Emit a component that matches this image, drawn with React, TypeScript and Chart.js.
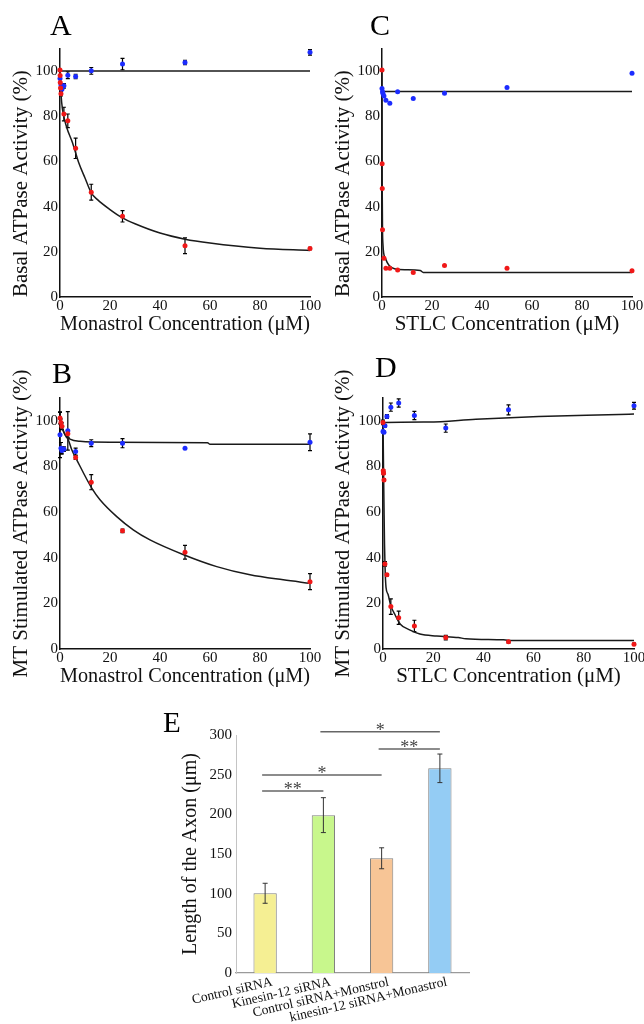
import React, { useEffect, useRef } from 'react';
import { Chart, registerables } from 'chart.js';

Chart.register(...registerables);

const SERIF = "'Liberation Serif', 'Times New Roman', Times, serif";
Chart.defaults.font.family = SERIF;
Chart.defaults.color = '#000';

// ---------- shared tick labels ----------
const CONC_TICKS = [0, 20, 40, 60, 80, 100];
const ACTIVITY_TICKS = [0, 20, 40, 60, 80, 100];
const AXON_TICKS = [0, 50, 100, 150, 200, 250, 300];

// ---------- Panel A : Monastrol, basal ----------
const A_RED_X = [0, 0.05, 0.1, 0.2, 0.39, 1.56, 3.125, 6.25, 12.5, 25, 50, 100];
const A_RED_Y = [100.5, 98, 95, 92.5, 90, 81, 78, 65.8, 46.4, 35.7, 22.7, 21.5];
const A_RED_ERR = [0, 0, 0, 0, 1, 3, 3, 4.5, 3.5, 2.5, 3.5, 0.5];
const A_BLUE_X = [0, 0.39, 0.78, 1.56, 3.125, 6.25, 12.5, 25, 50, 100];
const A_BLUE_Y = [96.7, 93.8, 92, 93.5, 98.2, 97.6, 100.1, 103.1, 103.8, 108.3];
const A_BLUE_ERR = [0, 0, 0, 1, 1.5, 1, 1.5, 2.5, 1, 1.2];
const A_RED_FIT_X = [0, 0.4, 1, 2.7, 5, 7.5, 10, 12.5, 15, 20, 25, 30, 40, 50, 60, 80, 100];
const A_RED_FIT_Y = [100.5, 90, 83, 75, 68.3, 59.4, 52.7, 46.1, 43.1, 38.7, 35, 32.4, 28.3, 25.6, 23.9, 21.6, 20.6];
const A_BLUE_FIT_X = [0, 100];
const A_BLUE_FIT_Y = [100, 100];

// ---------- Panel B : Monastrol, MT stimulated ----------
const B_RED_X = [0, 0.39, 0.78, 3.125, 6.25, 12.5, 25, 50, 100];
const B_RED_Y = [101.2, 99.3, 97.6, 94.3, 83.9, 73.1, 51.8, 42.4, 29.5];
const B_RED_ERR = [2.5, 1.5, 1.5, 1.5, 0.8, 3.3, 0.8, 3, 3.5];
const B_BLUE_X = [0, 0.39, 0.78, 1.56, 3.125, 6.25, 12.5, 25, 50, 100];
const B_BLUE_Y = [93.9, 88, 87, 87.6, 95.6, 86.5, 90.2, 90.2, 88, 90.6];
const B_BLUE_ERR = [10, 2.5, 1.5, 1, 8.4, 1.5, 1.5, 2, 0, 3.7];
const B_RED_FIT_X = [0, 2, 3.3, 4.7, 6.7, 12.7, 16, 22.7, 29.3, 36, 49.7, 62.7, 76, 89.3, 100];
const B_RED_FIT_Y = [100.4, 93.9, 91.7, 87.3, 82.9, 70.5, 65.4, 58, 52.2, 47.8, 41.2, 36.1, 32.5, 30.3, 28.8];
const B_BLUE_FIT_X = [0, 2, 4, 8, 20, 59, 60, 100];
const B_BLUE_FIT_Y = [99, 94, 92, 91, 90.6, 90.4, 89.7, 89.7];

// ---------- Panel C : STLC, basal ----------
const C_RED_X = [0, 0.05, 0.1, 0.2, 0.78, 1.56, 3.125, 6.25, 12.5, 25, 50, 100];
const C_RED_Y = [100.5, 59, 48, 29.8, 17.2, 12.7, 12.7, 12, 10.8, 13.9, 12.7, 11.6];
const C_BLUE_X = [0, 0.2, 0.39, 0.78, 1.56, 3.125, 6.25, 12.5, 25, 50, 100];
const C_BLUE_Y = [92.3, 90.8, 90.1, 89, 87.1, 85.8, 90.8, 87.9, 90.2, 92.7, 99];
const C_RED_FIT_X = [0, 0.05, 0.1, 0.2, 0.4, 0.67, 1.3, 2.7, 6, 15.3, 16.5, 100];
const C_RED_FIT_Y = [100, 60, 45, 30, 23, 19.4, 17.2, 14.2, 12.3, 11.7, 10.9, 10.9];
const C_BLUE_FIT_X = [0, 100];
const C_BLUE_FIT_Y = [91, 91];

// ---------- Panel D : STLC, MT stimulated ----------
const D_RED_X = [0, 0.1, 0.2, 0.39, 0.78, 1.56, 3.125, 6.25, 12.5, 25, 50, 100];
const D_RED_Y = [99.3, 78.1, 77, 74.1, 37.3, 32.5, 18.6, 13.7, 10.1, 5, 3.2, 2.1];
const D_RED_ERR = [1, 0.5, 0.5, 0.5, 1, 0.5, 3.4, 2.9, 2.5, 1, 0.5, 0.5];
const D_BLUE_X = [0, 0.39, 0.78, 1.56, 3.125, 6.25, 12.5, 25, 50, 100];
const D_BLUE_Y = [95.3, 95, 97.8, 101.9, 106, 107.8, 102.3, 96.8, 104.8, 106.6];
const D_BLUE_ERR = [0.5, 0.5, 0.5, 0.8, 1.8, 1.8, 1.8, 1.8, 2.2, 1.5];
const D_RED_FIT_X = [0, 0.2, 0.4, 0.6, 0.8, 1.2, 2, 3.1, 4.8, 6.8, 10.8, 14.7, 21.4, 30, 33, 48, 52, 100];
const D_RED_FIT_Y = [100, 80, 62, 46, 36.5, 27, 24, 19, 15, 11, 8.3, 6.6, 5.7, 5, 4.5, 4, 3.7, 3.7];
const D_BLUE_FIT_X = [0, 1, 18, 37, 62, 94, 100];
const D_BLUE_FIT_Y = [98.2, 99.3, 99.5, 100.7, 101.9, 102.8, 103];

// ---------- Panel E : axon length ----------
const E_CATEGORIES = ['Control siRNA', 'Kinesin-12 siRNA', 'Control siRNA+Monstrol', 'kinesin-12 siRNA+Monastrol'];
const E_VALUES = [100.5, 199, 144.6, 258];
const E_ERRORS = [12.6, 22, 13.2, 18];
const E_SIG_FROM = [0, 0, 2, 1];
const E_SIG_TO = [1, 2, 3, 3];
const E_SIG_Y = [229.4, 249.6, 282.4, 304.2];
const E_SIG_LABEL = ['**', '*', '**', '*'];

// ---------- styles / layout ----------
const RED = '#f01818';
const BLUE = '#1c2cff';
const E_COLORS = ['#f5ef93', '#c8f78c', '#f7c596', '#94ccf4'];

type Box = { left: number; top: number; width: number; height: number; plotLeft: number; plotRight: number; plotTop: number; plotBottom: number };
const LAYOUT: Record<string, Box> = {
  A: { left: 0, top: 0, width: 322, height: 343, plotLeft: 60, plotRight: 310, plotTop: 48.5, plotBottom: 297 },
  C: { left: 322, top: 0, width: 322, height: 343, plotLeft: 60, plotRight: 310, plotTop: 48.5, plotBottom: 297 },
  B: { left: 0, top: 350, width: 322, height: 345, plotLeft: 60, plotRight: 310, plotTop: 48, plotBottom: 299 },
  D: { left: 322, top: 350, width: 322, height: 345, plotLeft: 61, plotRight: 312, plotTop: 48, plotBottom: 299 },
  E: { left: 150, top: 700, width: 340, height: 324, plotLeft: 86, plotRight: 319, plotTop: 35, plotBottom: 273 },
};

const zip = (xs: number[], ys: number[]) => xs.map((x, i) => ({ x, y: ys[i] }));

const errorBarPlugin = {
  id: 'errBars',
  draw(chart: any, onTop: boolean, opts: any) {
    if (!!opts.onTop !== onTop) return;
    const ctx = chart.ctx;
    const ys = chart.scales.y;
    ctx.save();
    ctx.strokeStyle = opts.color || '#000';
    ctx.lineWidth = opts.width || 1.2;
    const cap = opts.cap || 2;
    chart.data.datasets.forEach((ds: any, di: number) => {
      if (!ds.errors) return;
      const meta = chart.getDatasetMeta(di);
      meta.data.forEach((el: any, i: number) => {
        const e = ds.errors[i];
        if (!e) return;
        const raw = ds.data[i];
        const v = typeof raw === 'number' ? raw : raw.y;
        const x = el.x;
        const y1 = ys.getPixelForValue(v + e);
        const y2 = ys.getPixelForValue(v - e);
        ctx.beginPath();
        ctx.moveTo(x, y1);
        ctx.lineTo(x, y2);
        ctx.moveTo(x - cap, y1);
        ctx.lineTo(x + cap, y1);
        ctx.moveTo(x - cap, y2);
        ctx.lineTo(x + cap, y2);
        ctx.stroke();
      });
    });
    ctx.restore();
  },
  beforeDatasetsDraw(chart: any, _a: any, opts: any) {
    errorBarPlugin.draw(chart, false, opts);
  },
  afterDatasetsDraw(chart: any, _a: any, opts: any) {
    errorBarPlugin.draw(chart, true, opts);
  },
};

const sigPlugin = {
  id: 'sigBrackets',
  afterDraw(chart: any) {
    const ctx = chart.ctx;
    const meta = chart.getDatasetMeta(0);
    const ys = chart.scales.y;
    ctx.save();
    ctx.strokeStyle = '#666';
    ctx.lineWidth = 1.5;
    ctx.fillStyle = '#444';
    ctx.font = `18px ${SERIF}`;
    ctx.textAlign = 'center';
    ctx.textBaseline = 'alphabetic';
    E_SIG_FROM.forEach((f, k) => {
      const x1 = meta.data[f].x - 3;
      const x2 = meta.data[E_SIG_TO[k]].x;
      const y = ys.getPixelForValue(E_SIG_Y[k]);
      ctx.beginPath();
      ctx.moveTo(x1, y);
      ctx.lineTo(x2, y);
      ctx.stroke();
      ctx.fillText(E_SIG_LABEL[k], (x1 + x2) / 2, y + 4);
    });
    ctx.restore();
  },
};

type Series = { x: number[]; y: number[]; err?: number[] };
type PanelData = { xTitle: string; yTitle: string; yAlign: 'start' | 'center'; red: Series; blue: Series; redFit: Series; blueFit: Series };

const PANELS: Record<string, PanelData> = {
  A: {
    xTitle: 'Monastrol Concentration (μM)', yTitle: 'Basal ATPase Activity (%)', yAlign: 'start',
    red: { x: A_RED_X, y: A_RED_Y, err: A_RED_ERR }, blue: { x: A_BLUE_X, y: A_BLUE_Y, err: A_BLUE_ERR },
    redFit: { x: A_RED_FIT_X, y: A_RED_FIT_Y }, blueFit: { x: A_BLUE_FIT_X, y: A_BLUE_FIT_Y },
  },
  B: {
    xTitle: 'Monastrol Concentration (μM)', yTitle: 'MT Stimulated ATPase Activity (%)', yAlign: 'center',
    red: { x: B_RED_X, y: B_RED_Y, err: B_RED_ERR }, blue: { x: B_BLUE_X, y: B_BLUE_Y, err: B_BLUE_ERR },
    redFit: { x: B_RED_FIT_X, y: B_RED_FIT_Y }, blueFit: { x: B_BLUE_FIT_X, y: B_BLUE_FIT_Y },
  },
  C: {
    xTitle: 'STLC Concentration (μM)', yTitle: 'Basal ATPase Activity (%)', yAlign: 'start',
    red: { x: C_RED_X, y: C_RED_Y }, blue: { x: C_BLUE_X, y: C_BLUE_Y },
    redFit: { x: C_RED_FIT_X, y: C_RED_FIT_Y }, blueFit: { x: C_BLUE_FIT_X, y: C_BLUE_FIT_Y },
  },
  D: {
    xTitle: 'STLC Concentration (μM)', yTitle: 'MT Stimulated ATPase Activity (%)', yAlign: 'center',
    red: { x: D_RED_X, y: D_RED_Y, err: D_RED_ERR }, blue: { x: D_BLUE_X, y: D_BLUE_Y, err: D_BLUE_ERR },
    redFit: { x: D_RED_FIT_X, y: D_RED_FIT_Y }, blueFit: { x: D_BLUE_FIT_X, y: D_BLUE_FIT_Y },
  },
};

function scatterConfig(p: PanelData, box: Box): any {
  const padL = 8.6;
  const padB = 5.8;
  const pointDs = (s: Series, color: string) => ({
    data: zip(s.x, s.y), errors: s.err, backgroundColor: color, borderColor: color,
    pointRadius: 2.5, borderWidth: 0, clip: false, order: 1,
  });
  const fitDs = (s: Series) => ({
    data: zip(s.x, s.y), showLine: true, borderColor: '#1a1a1a', borderWidth: 1.5,
    pointRadius: 0, cubicInterpolationMode: 'monotone', clip: false, order: 2,
  });
  return {
    type: 'scatter',
    data: { datasets: [pointDs(p.red, RED), pointDs(p.blue, BLUE), fitDs(p.redFit), fitDs(p.blueFit)] },
    options: {
      responsive: false,
      animation: false,
      events: [],
      layout: { padding: { left: padL, top: box.plotTop, right: box.width - box.plotRight, bottom: padB } },
      plugins: { legend: { display: false }, tooltip: { enabled: false }, errBars: { onTop: false, cap: 2, width: 1.2 } },
      scales: {
        x: {
          type: 'linear', min: 0, max: 100,
          afterBuildTicks: (s: any) => { s.ticks = CONC_TICKS.map((v) => ({ value: v })); },
          ticks: { font: { size: 15 }, color: '#111', padding: 0, maxRotation: 0 },
          grid: { display: false, drawTicks: false },
          border: { display: true, color: '#111', width: 1.5 },
          title: { display: true, text: p.xTitle, font: { size: 21 }, color: '#111', padding: 0 },
          afterFit: (s: any) => { s.height = box.height - padB - box.plotBottom; s.paddingLeft = 0; s.paddingRight = 0; },
        },
        y: {
          type: 'linear', min: 0, max: 110,
          afterBuildTicks: (s: any) => { s.ticks = ACTIVITY_TICKS.map((v) => ({ value: v })); },
          ticks: { font: { size: 15 }, color: '#111', padding: 2 },
          grid: { display: false, drawTicks: false },
          border: { display: true, color: '#111', width: 1.5 },
          title: { display: true, text: p.yTitle, font: { size: 21 }, color: '#111', padding: 0, align: p.yAlign },
          afterFit: (s: any) => { s.width = box.plotLeft - padL; s.paddingTop = 0; s.paddingBottom = 0; },
        },
      },
    },
    plugins: [errorBarPlugin],
  };
}

function barConfig(box: Box): any {
  const padL = 29;
  return {
    type: 'bar',
    data: {
      labels: E_CATEGORIES,
      datasets: [{
        data: E_VALUES, errors: E_ERRORS, backgroundColor: E_COLORS, borderColor: '#808080',
        borderWidth: 1, barPercentage: 0.4, categoryPercentage: 1,
      }],
    },
    options: {
      responsive: false,
      animation: false,
      events: [],
      layout: { padding: { left: padL, top: box.plotTop, right: box.width - box.plotRight, bottom: 0 } },
      plugins: { legend: { display: false }, tooltip: { enabled: false }, errBars: { onTop: true, cap: 2.5, width: 1, color: '#333' } },
      scales: {
        x: {
          ticks: { font: { size: 13.5 }, color: '#111', padding: 1, minRotation: 13, maxRotation: 13, autoSkip: false, labelOffset: 7 },
          grid: { display: false, drawTicks: false },
          border: { display: true, color: '#9a9a9a', width: 1.2 },
          afterFit: (s: any) => { s.height = box.height - box.plotBottom; s.paddingLeft = 0; s.paddingRight = 0; },
        },
        y: {
          min: 0, max: 300,
          afterBuildTicks: (s: any) => { s.ticks = AXON_TICKS.map((v) => ({ value: v })); },
          ticks: { font: { size: 15 }, color: '#111', padding: 4 },
          grid: { display: false, drawTicks: false },
          border: { display: true, color: '#c4c4c4', width: 1 },
          title: { display: true, text: 'Length of the Axon (μm)', font: { size: 20 }, color: '#111', padding: 0 },
          afterFit: (s: any) => { s.width = box.plotLeft - padL; s.paddingTop = 0; s.paddingBottom = 0; },
        },
      },
    },
    plugins: [errorBarPlugin, sigPlugin],
  };
}

function ChartCanvas({ box, make }: { box: Box; make: () => any }) {
  const ref = useRef<HTMLCanvasElement>(null);
  useEffect(() => {
    const chart = new Chart(ref.current as HTMLCanvasElement, make());
    return () => chart.destroy();
  }, []);
  return (
    <canvas
      ref={ref}
      width={box.width}
      height={box.height}
      style={{ position: 'absolute', left: box.left, top: box.top, width: box.width, height: box.height, display: 'block' }}
    />
  );
}

const LETTERS = [
  { text: 'A', left: 50, top: 10, size: 30 },
  { text: 'C', left: 370, top: 10, size: 30 },
  { text: 'B', left: 52, top: 358, size: 30 },
  { text: 'D', left: 375, top: 352, size: 30 },
  { text: 'E', left: 163, top: 708, size: 29 },
];

export default function App() {
  return (
    <div style={{ position: 'absolute', left: 0, top: 0, width: 644, height: 1024, background: '#fff', overflow: 'hidden', fontFamily: SERIF }}>
      {(['A', 'C', 'B', 'D'] as const).map((k) => (
        <ChartCanvas key={k} box={LAYOUT[k]} make={() => scatterConfig(PANELS[k], LAYOUT[k])} />
      ))}
      <ChartCanvas box={LAYOUT.E} make={() => barConfig(LAYOUT.E)} />
      {LETTERS.map((l) => (
        <div key={l.text} style={{ position: 'absolute', left: l.left, top: l.top, fontSize: l.size, lineHeight: `${l.size}px`, color: '#000' }}>
          {l.text}
        </div>
      ))}
    </div>
  );
}
